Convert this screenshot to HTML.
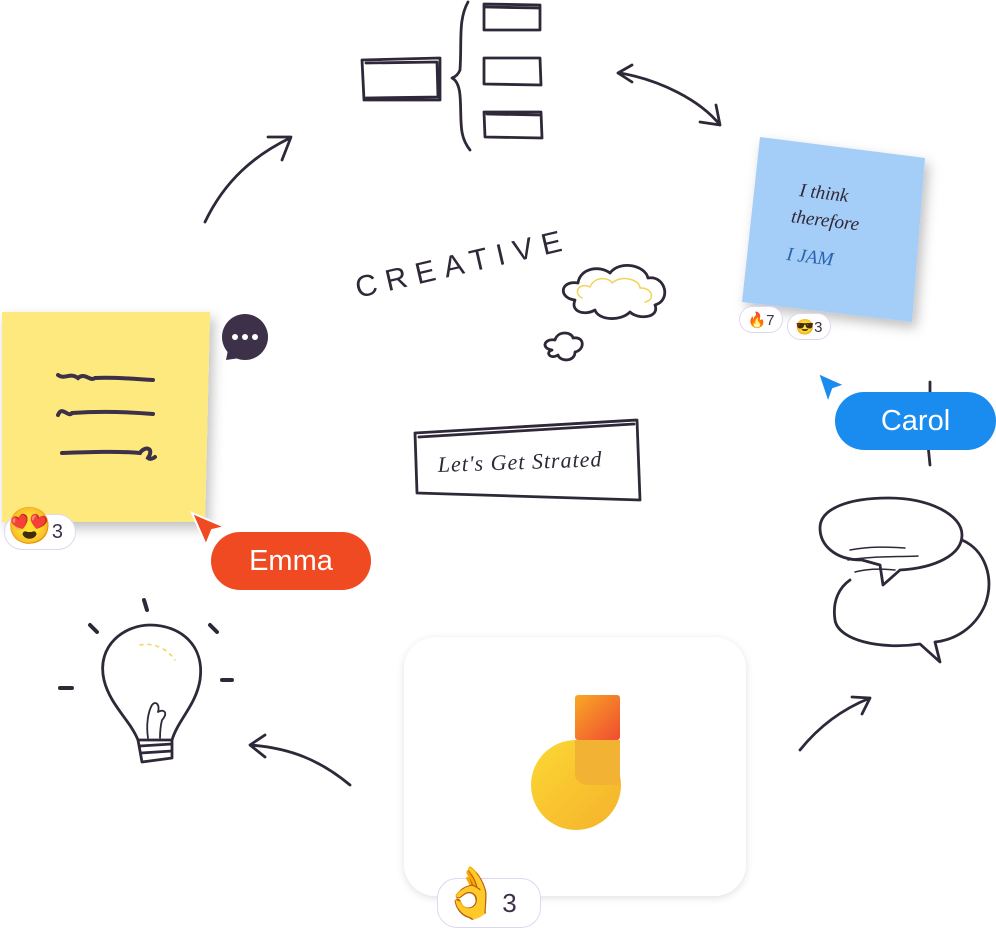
<!DOCTYPE html>
<html><head><meta charset="utf-8"><style>
html,body{margin:0;padding:0;background:#fff;}
body{width:996px;height:929px;position:relative;overflow:hidden;font-family:"Liberation Sans",sans-serif;}
.abs{position:absolute;}
.pill{position:absolute;background:#fff;border:1px solid #ddd8f0;border-radius:20px;display:flex;align-items:center;color:#3d3049;}
</style></head><body>
<svg class="abs" style="left:0;top:0" width="996" height="929" viewBox="0 0 996 929">
<defs>
<filter id="sh" x="-20%" y="-20%" width="140%" height="140%"><feDropShadow dx="4" dy="6" stdDeviation="6" flood-color="#000" flood-opacity="0.25"/></filter>
<filter id="sh2" x="-20%" y="-20%" width="140%" height="140%"><feDropShadow dx="0" dy="2" stdDeviation="4" flood-color="#000" flood-opacity="0.12"/></filter>
<linearGradient id="g1" x1="0" y1="0" x2="1" y2="1"><stop offset="0" stop-color="#f9a825"/><stop offset="1" stop-color="#ef4b30"/></linearGradient>
<linearGradient id="g2" x1="0" y1="0" x2="1" y2="1"><stop offset="0" stop-color="#fdd835"/><stop offset="1" stop-color="#f4b12a"/></linearGradient>
</defs>
<g fill="none" stroke="#2f2838" stroke-width="2.8" stroke-linecap="round" stroke-linejoin="round">
<path d="M362 60 L440 58 L440 100 L364 100 Z M366 63 L437 62 L438 97 L366 98"/>
<path d="M468 2 C458 20 462 40 460 70 C458 75 455 77 452 78 C456 80 459 85 460 95 C462 120 458 135 470 150"/>
<path d="M484 4 L540 5 L540 30 L484 30 Z M486 7 L538 8"/>
<path d="M484 58 L540 58 L541 85 L484 84 Z"/>
<path d="M484 112 L541 112 L542 138 L485 137 Z M487 114 L539 115"/>
<path d="M205 222 C225 180 255 155 290 138 M268 137 L291 137 L282 160"/>
<path d="M620 73 C660 80 700 100 720 125 M618 73 L632 65 M618 73 L632 82 M720 125 L700 122 M720 125 L716 105"/>
<path d="M350 785 C320 760 290 748 250 745 M265 735 L250 745 L265 757"/>
<path d="M800 750 C820 725 845 708 870 698 M852 697 L870 698 L862 714"/>
<path d="M930 382 L930 400 M928 445 L930 465"/>
<path d="M415 433 L637 420 L640 500 L417 493 Z M419 437 L634 424"/>
<path d="M575 300 C558 298 560 280 578 283 C580 268 600 265 610 273 C620 260 645 265 648 278 C665 275 672 300 655 305 C660 318 638 320 630 312 C620 322 598 320 595 310 C585 316 570 312 575 300 Z"/>
<path d="M582 298 C572 292 580 282 590 287 C595 275 610 278 612 283 C622 274 640 280 640 288 C652 287 656 300 645 302" stroke="#f2d35a" stroke-width="1.5"/>
<path d="M552 350 C540 348 545 338 555 340 C558 330 572 332 573 338 C585 336 585 350 575 352 C575 362 560 362 558 355 C550 360 545 352 552 350 Z"/>
<path d="M862 560 C835 560 820 545 820 528 C820 508 850 498 888 498 C930 498 962 515 962 535 C962 555 935 568 900 570 L883 585 L880 565 Z"/>
<path d="M962 540 C985 550 995 578 985 605 C975 628 955 640 935 642 L940 662 L920 644 C880 650 838 640 835 620 C832 600 840 587 850 580"/>
<path d="M850 550 C870 546 890 547 905 548 M848 560 C870 556 900 557 918 556 M855 572 C870 568 885 569 895 570" stroke-width="1.5"/>
<path d="M138 740 C130 720 110 705 104 680 C96 645 125 625 150 625 C180 625 205 645 200 680 C196 705 178 720 172 740 Z"/>
<path d="M138 740 L142 762 L172 758 L172 740 M140 746 L172 744 M141 753 L172 751"/>
<path d="M148 738 C146 725 148 712 152 705 C156 700 160 705 158 712 C165 708 168 714 162 720 C160 728 160 735 160 738" stroke-width="1.8"/>
<path d="M144 600 L147 610 M90 625 L97 632 M210 625 L217 632 M60 688 L72 688 M222 680 L232 680" stroke-width="4"/>
<path d="M140 645 C155 642 168 650 175 660" stroke="#f2d35a" stroke-width="1.5" stroke-dasharray="3 5"/>
</g>
<text x="358" y="298" transform="rotate(-13 358 298)" font-family="Liberation Sans,sans-serif" font-size="30" letter-spacing="9" fill="#2f2838">CREATIVE</text>
<text x="438" y="472" transform="rotate(-2 438 472)" font-family="Liberation Serif,serif" font-style="italic" font-size="22" letter-spacing="1" fill="#2f2838">Let's Get Strated</text>
<g filter="url(#sh)"><path d="M760 137 L925 158 L912 322 L742 302 Z" fill="#a4cdf7"/></g>
<g transform="rotate(7 830 230)" font-family="Liberation Serif,serif" font-style="italic" fill="#2f2838" font-size="19">
<text x="795" y="200">I think</text><text x="790" y="227">therefore</text><text x="790" y="265" fill="#2a62b0">I JAM</text></g>
<g filter="url(#sh)"><path d="M2 312 L210 312 L205 522 L2 522 Z" fill="#fde97d"/></g>
<g fill="none" stroke="#3d3049" stroke-width="4" stroke-linecap="round">
<path d="M58 375 C65 380 70 372 78 378 C85 372 90 382 95 378 C115 377 135 379 153 380"/>
<path d="M58 415 C62 405 68 418 72 413 C100 411 130 412 153 414"/>
<path d="M62 453 C90 452 120 451 140 453 C144 446 155 447 148 458 C150 460 154 458 155 457"/>
</g>
<circle cx="245" cy="337" r="23" fill="#3d3049"/><path d="M228 350 L226 360 L240 358 Z" fill="#3d3049"/>
<circle cx="235" cy="337" r="3" fill="#fff"/><circle cx="245" cy="337" r="3" fill="#fff"/><circle cx="255" cy="337" r="3" fill="#fff"/>
<path d="M192 513 L225 527 L212 530 L206 545 Z" fill="#f04a23" stroke="#fff" stroke-width="2"/>
<path d="M818 373 L845 385 L833 389 L828 403 Z" fill="#1a8cf0" stroke="#fff" stroke-width="2"/>
<g filter="url(#sh2)"><rect x="404" y="637" width="342" height="259" rx="32" fill="#fff"/></g>
<circle cx="576" cy="785" r="45" fill="url(#g2)"/>
<rect x="575" y="695" width="45" height="45" rx="3" fill="url(#g1)"/>
<path d="M575 740 L620 740 L620 785 L590 785 C580 785 575 780 575 775 Z" fill="#f2b233"/>
</svg>
<div class="pill" style="left:739px;top:306px;width:42px;height:25px;font-size:15px;justify-content:center">🔥7</div>
<div class="pill" style="left:787px;top:313px;width:42px;height:25px;font-size:15px;justify-content:center">😎3</div>
<div class="abs" style="left:835px;top:392px;width:161px;height:58px;border-radius:29px;background:#1a8cf0;color:#fff;font-size:29px;line-height:58px;text-align:center">Carol</div>
<div class="abs" style="left:211px;top:532px;width:160px;height:58px;border-radius:29px;background:#f04a23;color:#fff;font-size:29px;line-height:58px;text-align:center">Emma</div>
<div class="pill" style="left:4px;top:514px;width:70px;height:34px;font-size:20px"><span style="font-size:36px;margin-left:2px;margin-top:-12px">😍</span>3</div>
<div class="pill" style="left:437px;top:878px;width:102px;height:48px;font-size:26px"><span style="font-size:50px;margin-top:-20px;margin-left:2px">👌</span>3</div>
</body></html>
